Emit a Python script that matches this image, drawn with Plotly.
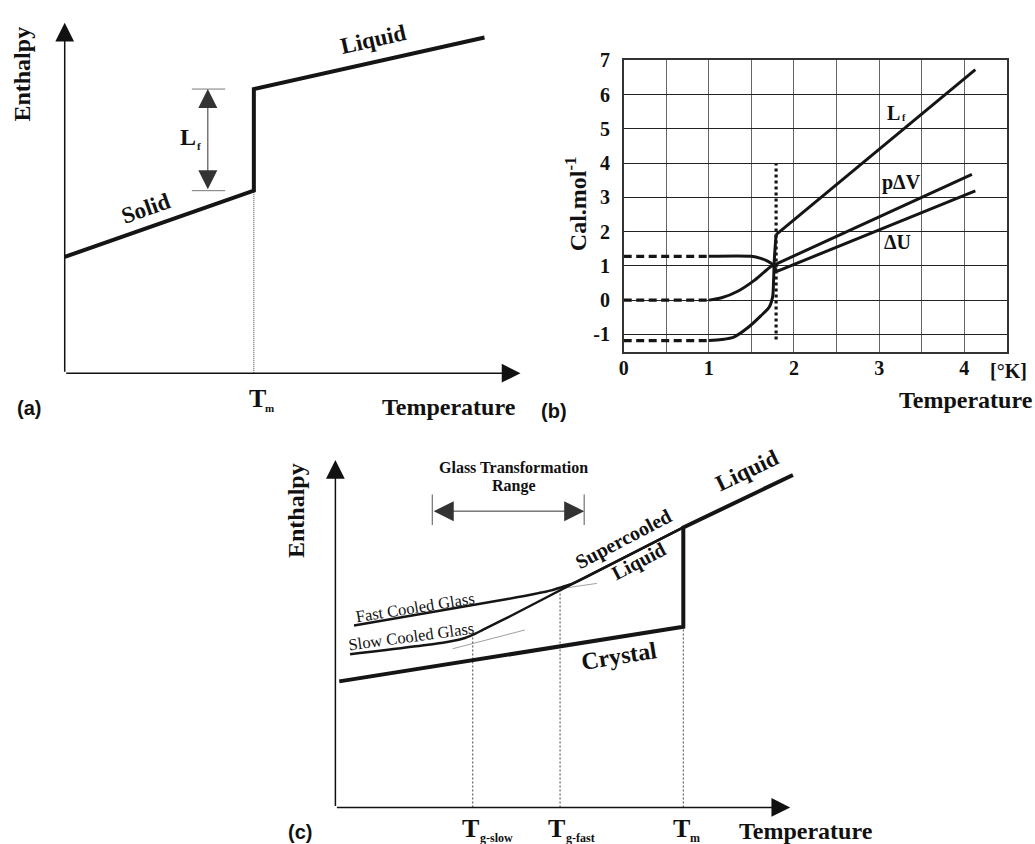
import plotly.graph_objects as go

W, H = 1035, 844
SERIF = "Liberation Serif"
SANS = "Liberation Sans"
INK = "#111111"

# ---------------- Panel (a): schematic enthalpy vs temperature (arbitrary units)
a_T = [0, 41.5, 41.5, 92.1]          # solid -> melting jump -> liquid
a_H = [33.2, 52.1, 81.1, 95.8]
a_Tm = 41.5
a_Lf_x = 31.4
a_Lf_lo, a_Lf_hi = 52.1, 81.1

# ---------------- Panel (b): Cal/mol vs temperature [K]
b_dash_T = [0.0, 1.0]
b_Lf_dash = [-1.18, -1.18]
b_pdv_dash = [0.0, 0.0]
b_du_dash = [1.28, 1.28]

b_Lf_curve_T = [1.0, 1.15, 1.30, 1.46, 1.61, 1.71, 1.75, 1.76, 1.77, 1.79]
b_Lf_curve = [-1.18, -1.15, -1.07, -0.80, -0.46, -0.20, 0.11, 0.55, 1.22, 1.91]
b_Lf_line_T = [1.79, 4.13]
b_Lf_line = [1.91, 6.73]

b_pdv_curve_T = [1.0, 1.15, 1.34, 1.53, 1.65, 1.73, 1.77]
b_pdv_curve = [0.0, 0.07, 0.26, 0.57, 0.82, 0.98, 1.03]
b_pdv_line_T = [1.77, 4.09]
b_pdv_line = [1.03, 3.67]

b_du_curve_T = [1.0, 1.50, 1.61, 1.69, 1.75, 1.78, 1.80]
b_du_curve = [1.28, 1.28, 1.22, 1.14, 1.04, 0.92, 0.84]
b_du_line_T = [1.80, 4.13]
b_du_line = [0.84, 3.19]

b_trans_T = [1.79, 1.79]
b_trans_y = [-1.15, 3.98]

b_xticks = [0, 1, 2, 3, 4]
b_yticks = [-1, 0, 1, 2, 3, 4, 5, 6, 7]
b_yticktext = ["-1", "0", "1", "2", "3", "4", "5", "6", "7"]

# ---------------- Panel (c): glass transition schematic (arbitrary units)
c_T = [0.85, 76.5, 76.5, 100.6]      # crystal -> melting jump -> liquid
c_H = [36.3, 52.0, 80.6, 95.7]
c_slow_T = [76.5, 52.0, 38.95, 32.5, 30.9, 28.5, 26.0, 23.63, 3.22]
c_slow_H = [80.6, 64.26, 55.4, 51.18, 50.1, 48.8, 48.0, 47.44, 44.12]
c_fast_T = [76.5, 55.0, 52.0, 49.9, 47.5, 44.0, 37.86, 4.09]
c_fast_H = [80.6, 66.24, 64.35, 63.5, 62.5, 61.5, 60.0, 52.36]
c_Tg_slow, c_Tg_slow_H = 30.2, 49.7
c_Tg_fast, c_Tg_fast_H = 49.4, 62.7
c_Tm, c_Tm_H = 76.5, 52.0
c_ext_slow_T, c_ext_slow_H = [25.8, 41.7], [45.7, 51.1]
c_ext_fast_T, c_ext_fast_H = [44.8, 57.5], [62.1, 64.5]
c_range_lo, c_range_hi, c_range_y = 21.3, 54.7, 85.3

fig = go.Figure()

def line(x, y, xa, ya, width, color="#151515", dash=None, shape="linear"):
    fig.add_trace(go.Scatter(x=x, y=y, xaxis=xa, yaxis=ya, mode="lines",
                             line=dict(color=color, width=width, dash=dash, shape=shape,
                                       smoothing=0.8 if shape == "spline" else None),
                             hoverinfo="skip", showlegend=False))

# panel a
line([a_Tm, a_Tm], [0, a_Lf_lo], "x", "y", 1, "#444", "1px,1px")
line(a_T, a_H, "x", "y", 4)

# panel b
for yv in (b_Lf_dash, b_pdv_dash, b_du_dash):
    line(b_dash_T, yv, "x2", "y2", 3.2, dash="8px,4.5px")
for cx, cy in ((b_Lf_curve_T, b_Lf_curve), (b_pdv_curve_T, b_pdv_curve), (b_du_curve_T, b_du_curve)):
    line(cx, cy, "x2", "y2", 3, shape="spline")
for lx, ly in ((b_Lf_line_T, b_Lf_line), (b_pdv_line_T, b_pdv_line), (b_du_line_T, b_du_line)):
    line(lx, ly, "x2", "y2", 3)
line(b_trans_T, b_trans_y, "x2", "y2", 3.2, dash="3px,3px")

# panel c
line([c_Tg_slow, c_Tg_slow], [0, c_Tg_slow_H], "x3", "y3", 1, "#444", "2px,2px")
line([c_Tg_fast, c_Tg_fast], [0, c_Tg_fast_H], "x3", "y3", 1, "#444", "2px,2px")
line([c_Tm, c_Tm], [0, c_Tm_H], "x3", "y3", 1, "#444", "2px,2px")
line(c_ext_slow_T, c_ext_slow_H, "x3", "y3", 0.8, "#888")
line(c_ext_fast_T, c_ext_fast_H, "x3", "y3", 0.8, "#888")
line(c_slow_T, c_slow_H, "x3", "y3", 2.5, shape="spline")
line(c_fast_T, c_fast_H, "x3", "y3", 2.5, shape="spline")
line(c_T, c_H, "x3", "y3", 4)

# ---------------- geometry of the three panels (pixel placement)
def dom_x(p0, ppu, r):
    return [(p0 + r[0] * ppu) / W, (p0 + r[1] * ppu) / W]

def dom_y(p0, ppu, r):
    return [1 - (p0 - r[0] * ppu) / H, 1 - (p0 - r[1] * ppu) / H]

ra_x, ra_y = [-4, 104], [-4, 102]
rc_x, rc_y = [-4, 106], [-4, 102]
hidden = dict(visible=False, fixedrange=True)

tickfont = dict(family=SERIF, size=20, color=INK, weight="bold")
fig.update_layout(
    width=W, height=H, autosize=False,
    margin=dict(l=0, r=0, t=0, b=0),
    paper_bgcolor="white", plot_bgcolor="rgba(0,0,0,0)",
    showlegend=False,
    xaxis=dict(domain=dom_x(60, 4.58, ra_x), range=ra_x, **hidden),
    yaxis=dict(domain=dom_y(367, 3.55, ra_y), range=ra_y, **hidden),
    xaxis2=dict(domain=[621.7 / W, 1006.7 / W], range=[0, 4.5], anchor="y2",
                tickvals=b_xticks, ticks="", tickfont=tickfont, ticklabelstandoff=-2,
                showgrid=True, gridcolor="#666", gridwidth=1,
                minor=dict(tickvals=[0.5, 1.5, 2.5, 3.5], showgrid=True, gridcolor="#666", gridwidth=1),
                showline=True, mirror=True, linecolor="#333", linewidth=1.5, zeroline=False,
                fixedrange=True),
    yaxis2=dict(domain=[1 - 345 / H, 1 - 50 / H], range=[-1.5, 7], anchor="x2",
                tickvals=b_yticks, ticktext=b_yticktext, ticks="", tickfont=tickfont,
                ticklabelstandoff=8,
                showgrid=True, gridcolor="#222", gridwidth=1,
                showline=True, mirror=True, linecolor="#333", linewidth=1.5, zeroline=False,
                fixedrange=True),
    xaxis3=dict(domain=dom_x(332, 4.57, rc_x), range=rc_x, anchor="y3", **hidden),
    yaxis3=dict(domain=dom_y(807, 3.52, rc_y), range=rc_y, anchor="x3", **hidden),
)

ann = []

def txt(px, py, s, size, angle=0, bold=True, family=SERIF):
    ann.append(dict(x=px / W, y=1 - py / H, xref="paper", yref="paper", text=s,
                    showarrow=False, textangle=angle, xanchor="center", yanchor="middle",
                    font=dict(family=family, size=size, color=INK,
                              weight="bold" if bold else "normal")))

def arrow(xr, yr, x, y, ax, ay, width, size, color="#111", both=False):
    d = dict(x=x, y=y, ax=ax, ay=ay, xref=xr, yref=yr, axref=xr, ayref=yr, text="",
             showarrow=True, arrowhead=2, arrowsize=size, arrowwidth=width, arrowcolor=color)
    if both:
        d.update(arrowside="end+start", startarrowhead=2, startarrowsize=size)
    ann.append(d)

# axes arrows (a) and (c)
arrow("x", "y", 0, 100, 0, 0, 1.5, 2.5)
arrow("x", "y", 100, 0, 0, 0, 1.5, 2.5)
arrow("x3", "y3", 0, 100, 0, 0, 1.5, 2.5)
arrow("x3", "y3", 100, 0, 0, 0, 1.5, 2.5)
# latent heat double arrow (a)
arrow("x", "y", a_Lf_x, a_Lf_hi, a_Lf_x, a_Lf_lo, 1, 3.8, "#333", both=True)
# glass transformation range double arrow (c)
arrow("x3", "y3", c_range_hi, c_range_y, c_range_lo, c_range_y, 1, 4, "#333", both=True)

shapes = []
for y0 in (a_Lf_lo, a_Lf_hi):
    shapes.append(dict(type="line", xref="x", yref="y", x0=27.9, x1=35.2, y0=y0, y1=y0,
                       line=dict(color="#777", width=1)))
for x0 in (c_range_lo, c_range_hi):
    shapes.append(dict(type="line", xref="x3", yref="y3", x0=x0, x1=x0, y0=81.3, y1=90.1,
                       line=dict(color="#555", width=1)))

# ---- texts panel (a)
txt(17.5, 64, "Enthalpy", 24, -90)
txt(141.7, 200.5, "Solid", 23, -19.4)
txt(370, 29, "Liquid", 23, -12.6)
txt(184, 127.5, "L", 24)
txt(194.5, 137, "f", 11)
txt(254, 393, "T", 26)
txt(266, 402, "m", 11)
txt(446, 401, "Temperature", 24)
txt(24, 402, "(a)", 20, family=SANS)

# ---- texts panel (b)
txt(574.5, 195, "Cal.mol<sup>-1</sup>", 24, -90)
txt(893, 103, "L", 20)
txt(903.5, 108.3, "f", 10)
txt(900.5, 174, "p\u0394V", 20)
txt(897.2, 234, "\u0394U", 20)
txt(1008, 365, "[\u00b0K]", 20)
txt(966, 394, "Temperature", 24)
txt(552, 405, "(b)", 20, family=SANS)

# ---- texts panel (c)
txt(293, 506, "Enthalpy", 24, -90)
txt(510.9, 462.7, "Glass Transformation", 16)
txt(511.6, 481.7, "Range", 16)
txt(621, 535.5, "Supercooled", 20, -27.7)
txt(637, 558, "Liquid", 20, -27.7)
txt(746, 466, "Liquid", 23, -25.5)
txt(617, 654, "Crystal", 24, -9.1)
txt(412.3, 604, "Fast Cooled Glass", 16.5, -9, bold=False)
txt(408.3, 634, "Slow Cooled Glass", 16.5, -7.7, bold=False)
txt(467.5, 828, "T", 26)
txt(493.5, 838, "g-slow", 12)
txt(554.5, 828, "T", 26)
txt(578.5, 838, "g-fast", 12)
txt(679.5, 828, "T", 26)
txt(693.5, 838, "m", 12)
txt(805, 831, "Temperature", 24)
txt(296, 832, "(c)", 20, family=SANS)

fig.update_layout(annotations=ann, shapes=shapes)
fig.write_html("out.html",
               config={"displayModeBar": False},
               post_script="document.body.style.margin='0px';"
                           "document.body.style.padding='0px';"
                           "document.body.style.overflow='hidden';")
